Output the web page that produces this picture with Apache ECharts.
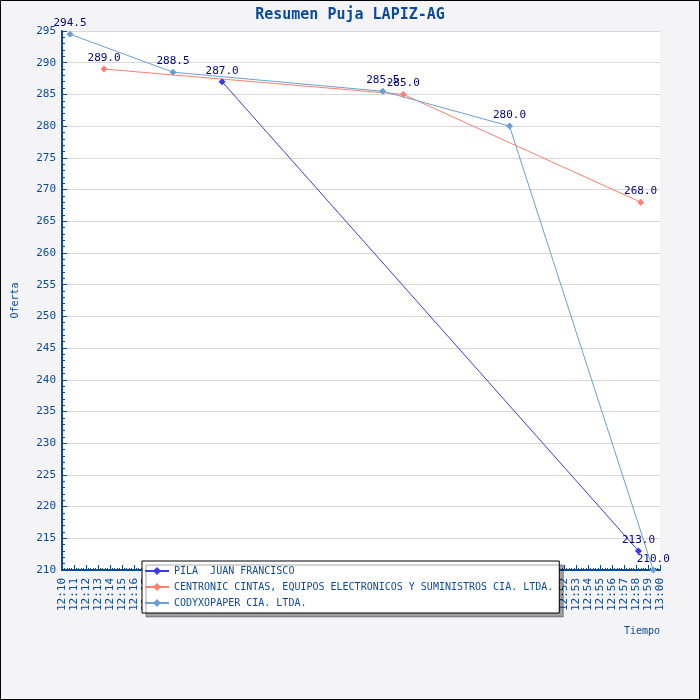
<!DOCTYPE html>
<html>
<head>
<meta charset="utf-8">
<script src="https://cdn.jsdelivr.net/npm/echarts@6/dist/echarts.min.js"></script>
<style>
  html, body { margin: 0; padding: 0; background: #f4f4f6; }
  #chart { width: 700px; height: 700px; }
</style>
</head>
<body>
<div id="chart"></div>
<script>
// datos (hora de la oferta, valor)
var seriesNames = [
  "PILA  JUAN FRANCISCO",
  "CENTRONIC CINTAS, EQUIPOS ELECTRONICOS Y SUMINISTROS CIA. LTDA.",
  "CODYXOPAPER CIA. LTDA."
];
var pilaTimes = ["12:23:23", "12:58:12"];
var pilaValues = [287.0, 213.0];
var centronicTimes = ["12:13:31", "12:38:32", "12:58:23"];
var centronicValues = [289.0, 285.0, 268.0];
var codyTimes = ["12:10:40", "12:19:17", "12:36:49", "12:47:25", "12:59:26"];
var codyValues = [294.5, 288.5, 285.5, 280.0, 210.0];
var colors = ["#3a3ae8", "#fa8072", "#6a9fcf"];

var mono = "DejaVu Sans Mono";
var axisBlue = "#0b4a9a";

// minutos desde las 12:00
function toMinutes(t) {
  var p = t.split(":");
  return (+p[0] - 12) * 60 + (+p[1]) + (+p[2]) / 60;
}
function fmtTime(m) {
  var h = 12 + Math.floor(m / 60);
  var mm = Math.round(m % 60);
  return h + ":" + (mm < 10 ? "0" : "") + mm;
}
function pairs(times, values) {
  return times.map(function (t, i) { return [toMinutes(t), values[i]]; });
}

function makeSeries(name, data, color) {
  return {
    name: name,
    type: "line",
    data: data,
    symbol: "diamond",
    symbolSize: 7,
    lineStyle: { color: color, width: 1 },
    itemStyle: { color: color },
    label: {
      show: true,
      position: "top",
      distance: 2,
      color: "#000080",
      fontFamily: mono,
      fontSize: 11,
      formatter: function (p) { return p.value[1].toFixed(1); }
    },
    animation: false
  };
}

var myChart = echarts.init(document.getElementById("chart"));
myChart.setOption({
  backgroundColor: "#f4f4f6",
  animation: false,
  title: {
    text: "Resumen Puja LAPIZ-AG",
    left: "center",
    top: 3,
    textStyle: { fontFamily: mono, fontSize: 15, fontWeight: "bold", color: axisBlue }
  },
  graphic: [{
    type: "rect",
    shape: { x: 0.5, y: 0.5, width: 699, height: 699 },
    style: { fill: null, stroke: "#000", lineWidth: 1 },
    silent: true
  }],
  legend: {
    orient: "vertical",
    left: 142,
    top: 561,
    itemGap: 6,
    itemWidth: 24,
    itemHeight: 10,
    padding: [5, 6, 5, 2],
    backgroundColor: "#fff",
    borderColor: "#000",
    borderWidth: 1,
    shadowColor: "rgba(0,0,0,0.35)",
    shadowOffsetX: 4,
    shadowOffsetY: 4,
    shadowBlur: 0,
    textStyle: { fontFamily: mono, fontSize: 10, color: axisBlue },
    data: seriesNames
  },
  grid: {
    left: 62, right: 40, top: 31, bottom: 130,
    show: true, backgroundColor: "#fff", borderWidth: 0
  },
  xAxis: {
    type: "value",
    min: 10, max: 60, interval: 1,
    name: "Tiempo",
    nameLocation: "end",
    nameGap: 0,
    nameTextStyle: {
      fontFamily: mono, fontSize: 10, color: axisBlue,
      align: "right", verticalAlign: "top", padding: [56, 0, 0, 0]
    },
    axisLine: { lineStyle: { color: axisBlue, width: 2 } },
    axisTick: { inside: true, length: 5, lineStyle: { color: axisBlue } },
    minorTick: { show: true, splitNumber: 5, length: 2, lineStyle: { color: axisBlue } },
    splitLine: { show: false },
    axisLabel: {
      rotate: 90,
      margin: 8,
      fontFamily: mono, fontSize: 11, color: axisBlue,
      formatter: fmtTime
    }
  },
  yAxis: {
    type: "value",
    min: 210, max: 295, interval: 5,
    name: "Oferta",
    nameLocation: "middle",
    nameGap: 42,
    nameRotate: 90,
    nameTextStyle: { fontFamily: mono, fontSize: 10, color: axisBlue },
    axisLine: { show: true, lineStyle: { color: axisBlue, width: 2 } },
    axisTick: { inside: true, length: 5, lineStyle: { color: axisBlue } },
    minorTick: { show: true, splitNumber: 5, length: 3, lineStyle: { color: axisBlue } },
    splitLine: { show: true, lineStyle: { color: "#d8d8d8" } },
    axisLabel: { margin: 6, fontFamily: mono, fontSize: 11, color: axisBlue }
  },
  series: [
    makeSeries(seriesNames[0], pairs(pilaTimes, pilaValues), colors[0]),
    makeSeries(seriesNames[1], pairs(centronicTimes, centronicValues), colors[1]),
    makeSeries(seriesNames[2], pairs(codyTimes, codyValues), colors[2])
  ]
});
</script>
</body>
</html>
